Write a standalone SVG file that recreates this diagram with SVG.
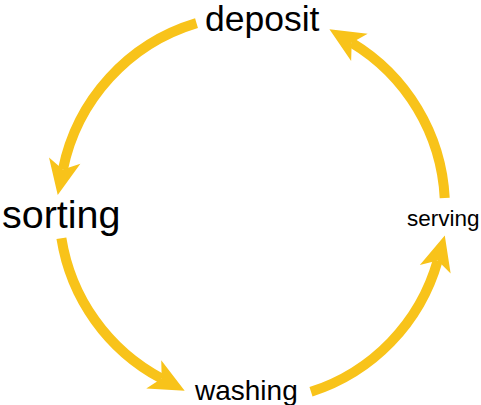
<svg xmlns="http://www.w3.org/2000/svg" width="481" height="405" viewBox="0 0 481 405">
<style>
.lbl{font-family:"Liberation Sans",Arial,sans-serif;fill:#000}
.arc{fill:none;stroke:#F8C31A;stroke-width:10;stroke-linecap:butt}
</style>
<defs>
<marker id="ah" markerUnits="userSpaceOnUse" markerWidth="60" markerHeight="60" refX="0" refY="0" orient="auto" viewBox="-20 -30 60 60" overflow="visible">
<path d="M26,0 L-9,-16 L0,0 L-9,16 Z" fill="#F8C31A"/>
</marker>
</defs>
<rect width="481" height="405" fill="#fff"/>
<g id="connectors">
<path class="arc" d="M196.5,23.1 A193,193 0 0 0 62.9,169.5" marker-end="url(#ah)"/>
<path class="arc" d="M61.4,238.2 A193,193 0 0 0 161.7,378.6" marker-end="url(#ah)"/>
<path class="arc" d="M311.0,391.8 A193,193 0 0 0 437.7,260.6" marker-end="url(#ah)"/>
<path class="arc" d="M444.7,197.9 A193,193 0 0 0 351.7,42.7" marker-end="url(#ah)"/>
</g>
<g id="deposit"><text class="lbl" x="205" y="31" font-size="35.5">deposit</text></g>
<g id="sorting"><text class="lbl" x="2" y="228" font-size="39.5">sorting</text></g>
<g id="washing"><text class="lbl" x="195" y="400" font-size="28">washing</text></g>
<g id="serving"><text class="lbl" x="407" y="226" font-size="22.5">serving</text></g>
</svg>
